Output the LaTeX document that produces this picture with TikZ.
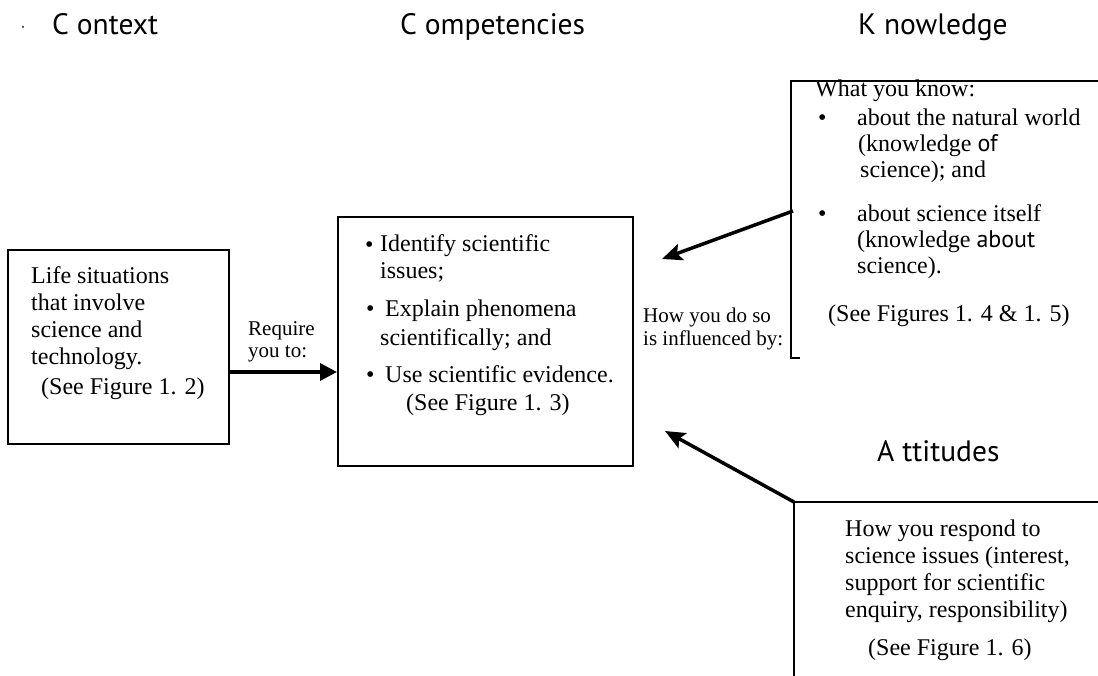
\documentclass[tikz,border=0pt]{standalone}
\usepackage{fontspec}
\setmainfont{Liberation Serif}
\newfontfamily\headfont{PT Sans}
\newfontfamily\inlinesans{PT Sans}
\usetikzlibrary{arrows.meta}

\begin{document}
\begin{tikzpicture}[x=1pt,y=-1pt,
  frame/.style={draw, line width=2pt, inner sep=0pt},
  edge/.style={line width=2pt},
  heading/.style={anchor=base west, inner sep=0pt, font=\headfont\fontsize{29.5}{31}\selectfont},
  body/.style={anchor=base west, inner sep=0pt, align=left, font=\fontsize{24}{27}\selectfont},
  knowbody/.style={body, font=\fontsize{24}{26}\selectfont},
  small/.style={anchor=base west, inner sep=0pt, align=left, font=\fontsize{21}{22.5}\selectfont},
  link/.style={line width=3.5pt, -{Triangle[length=17pt,width=17pt]}},
  slant/.style={line width=3.5pt, -{Stealth[length=20pt,width=17pt,inset=4pt]}},
  ]
\useasboundingbox (0,0) rectangle (1098,676);
\clip (0,0) rectangle (1098,676);

% small mark at the top left
\fill (23,27) circle (1pt);

% column headings
\node[heading] (hctx)  at (52,35)  {C ontext};
\node[heading] (hcomp) at (400,35) {C ompetencies};
\node[heading] (hknow) at (858,35) {K nowledge};
\node[heading] (hatt)  at (877,461) {A ttitudes};

% context box (multi-line nodes are placed by the baseline of their last line)
\node[frame, minimum width=221pt, minimum height=194pt] (ctx) at (118.5,347) {};
\node[body] (ctxtext) at (31,364) {Life situations\\that involve\\science and\\technology.};
\node[body] (ctxsee) at (41,395) {(See Figure 1. 2)};

% competencies box
\node[frame, minimum width=295pt, minimum height=249pt] (comp) at (485.5,341.5) {};
\node[body] (cb1) at (365,253) {•};
\node[body] (c1)  at (380,279) {Identify scientific\\issues;};
\node[body] (cb2) at (366,317) {•};
\node[body] (c2)  at (385,317) {Explain phenomena};
\node[body] (c2b) at (380,345) {scientifically; and};
\node[body] (cb3) at (366,382) {•};
\node[body] (c3)  at (385,382) {Use scientific evidence.};
\node[body] (csee) at (406,410) {(See Figure 1. 3)};

% link labels
\node[small] (req) at (248,358) {Require\\you to:};
\node[small] (how) at (643,345) {How you do so\\is influenced by:};

% knowledge box (runs off to the right)
\coordinate (kTL) at (791,81);
\coordinate (kBL) at (791,358);
\draw[edge] (1110,81) -- (kTL) -- (kBL) -- ++(9,0);
\node[knowbody] (kw)  at (815,97) {What you know:};
\node[knowbody] (kb1) at (818,126) {•};
\node[knowbody] (k1)  at (857,178) {about the natural world\\\hspace*{1pt}(knowledge {\inlinesans of}\\\hspace*{3pt}science); and};
\node[knowbody] (kb2) at (818,222) {•};
\node[knowbody] (k2)  at (857,274) {about science itself\\(knowledge {\inlinesans about}\\science).};
\node[knowbody] (ksee) at (828,322) {(See Figures 1. 4 \& 1. 5)};

% attitudes box (runs off to the right and bottom)
\coordinate (aTL) at (794,502);
\draw[edge] (1110,502) -- (aTL) -- (794,690);
\node[body] (at)   at (845,617) {How you respond to\\science issues (interest,\\support for scientific\\enquiry, responsibility)};
\node[body] (asee) at (868,655) {(See Figure 1. 6)};

% connectors
\coordinate (arrowy) at (0,372);
\draw[link] (ctx.east |- arrowy) -- (comp.west |- arrowy);
\coordinate (kFrom) at (793,211);
\coordinate (kTo) at (662,259);
\draw[slant] (kFrom) -- (kTo);
\coordinate (aTo) at (665,431);
\draw[slant] (aTL) -- (aTo);
\end{tikzpicture}
\end{document}
